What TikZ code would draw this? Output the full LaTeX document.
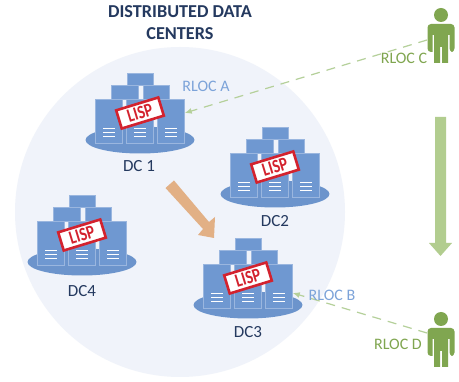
\documentclass[tikz,border=0pt]{standalone}
\usepackage{fontspec}
\setmainfont{Carlito}
\usetikzlibrary{arrows.meta}
\definecolor{bluefill}{HTML}{6F98D1}
\definecolor{boxedge}{HTML}{9AB6DF}
\definecolor{discblue}{HTML}{6C94CC}
\definecolor{halo}{HTML}{F0F3FA}
\definecolor{navy}{HTML}{24395F}
\definecolor{personG}{HTML}{80A650}
\definecolor{dashG}{HTML}{B5D09A}
\definecolor{bigG}{HTML}{B2CD8F}
\definecolor{rlocB}{HTML}{7CA3D9}
\definecolor{stampR}{HTML}{D3222E}
\definecolor{orangeA}{HTML}{E2B085}
\tikzset{
  x=1pt,y=-1pt,
  srv/.style={draw=boxedge,line width=.5pt,fill=bluefill},
  rack/.style={srv,minimum width=27pt,minimum height=44pt,inner sep=0pt},
  stampbox/.style={draw=stampR,line width=2.6pt,fill=white,minimum width=44pt,minimum height=19pt,inner sep=0pt,
     rotate=17,text=stampR,font=\bfseries\fontsize{19}{19}\selectfont},
  dclabel/.style={text=navy,font=\fontsize{17}{18}\selectfont},
  rloc/.style={font=\fontsize{16}{17}\selectfont,inner sep=0pt},
  link/.style={draw=dashG,line width=1.2pt,dash pattern=on 9pt off 7pt,-{Latex[length=7pt,width=6pt,fill=dashG]}},
  pics/dc/.style={code={
    \fill[discblue] (0,0) ellipse [x radius=54.5pt,y radius=13.5pt];
    \draw[srv] (-13,-67) rectangle (13,-55);
    \draw[srv] (-29,-55) rectangle (-2,-41);
    \draw[srv] (3,-55) rectangle (29,-41);
    \foreach \cx/\nm in {-31/a,0/b,31/c}{
      \node[rack] (-\nm) at (\cx,-19) {};
      \foreach \ly in {-12,-8,-4}
        \draw[white,line width=.9pt] (\cx-6,\ly) -- (\cx+6,\ly);
    }
    \node[stampbox] (-stamp) at (0,-27) {\scalebox{.8}[1]{LISP}};
  }},
  pics/person/.style={code={
    \fill[personG] (0,-15) circle [radius=7pt];
    \fill[personG,rounded corners=3.5pt] (-13.5,-6) -- (13.5,-6) -- (13.5,22) -- (8.5,22) [sharp corners] -- (8.5,5) -- (7,5) -- (7,33) -- (1,33) -- (1,17) -- (-1,17) -- (-1,33) -- (-7,33) -- (-7,5) -- (-8.5,5) -- (-8.5,22) [rounded corners=3.5pt] -- (-13.5,22) -- cycle;
  }}
}
\begin{document}
\begin{tikzpicture}
\useasboundingbox (0,0) rectangle (459,382);
\fill[white] (0,0) rectangle (459,382);
\fill[halo] (180,212) circle [radius=165pt];
\pic (dcone) at (140,140) {dc};
\pic (dctwo) at (275,194) {dc};
\pic (dcfour) at (82,262) {dc};
\pic (dcthree) at (248,305) {dc};
\node[dclabel] (l1) at (139,166) {DC 1};
\node[dclabel] (l2) at (275,221) {DC2};
\node[dclabel] (l3) at (248,332) {DC3};
\node[dclabel] (l4) at (82,291) {DC4};
\node[align=center,text=navy,font=\bfseries\fontsize{18.2}{22}\selectfont] (title) at (180,23) {DISTRIBUTED DATA\\CENTERS};
\pic (pc) at (441,30) {person};
\pic (pd) at (441,334) {person};
\coordinate (cout) at (427,40);
\coordinate (dout) at (427,333);
\draw[link] (cout) -- ([yshift=8pt]dcone-c.east);
\draw[link] (dout) -- ([yshift=-7pt]dcthree-c.east);
\node[rloc,text=rlocB] (ra) at (206,86) {RLOC A};
\node[rloc,text=rlocB] (rb) at (332,295) {RLOC B};
\node[rloc,text=personG] (rc) at (404,58) {RLOC C};
\node[rloc,text=personG] (rd) at (398,344) {RLOC D};
\fill[orangeA] (165.5,188) -- (174,180.5) -- (209,222) -- (215,217) -- (214,238) -- (198,235) -- (203,229) -- cycle;
\fill[bigG] (435,117) -- (446,117) -- (446,243) -- (452,243) -- (440.5,256) -- (429,243) -- (435,243) -- cycle;
\end{tikzpicture}
\end{document}
